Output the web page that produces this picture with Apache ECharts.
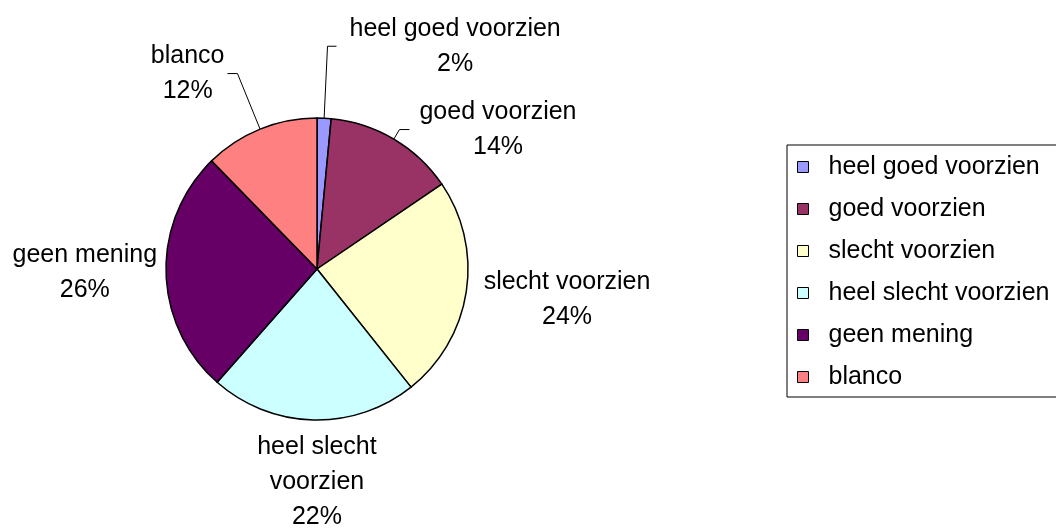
<!DOCTYPE html>
<html>
<head>
<meta charset="utf-8">
<script src="https://cdn.jsdelivr.net/npm/echarts@6/dist/echarts.min.js"></script>
<style>
  html, body { margin: 0; padding: 0; background: #fff; }
  #chart { width: 1056px; height: 528px; }
</style>
</head>
<body>
<div id="chart"></div>
<script>
// categories and shares (percent of answers)
var categories = ['heel goed voorzien', 'goed voorzien', 'slecht voorzien', 'heel slecht voorzien', 'geen mening', 'blanco']
var labelNames = ['heel goed voorzien', 'goed voorzien', 'slecht voorzien', 'heel slecht\nvoorzien', 'geen mening', 'blanco']
var shares = [1.5, 14.0, 23.8, 22.2, 26.2, 12.3]
var colors = ['#9999FF', '#993366', '#FFFFCC', '#CCFFFF', '#660066', '#FF8080']

// pie geometry
var pieCenter = [317, 269]
var pieRadius = 151

// label placement: radial leader length, horizontal length, side, gap to text
var lineLen1 = [72, 11, 55, 10, 6, 60]
var lineLen2 = [9, 10, -37, 4, 3, 10]
var labelSide = [1, 1, 1, 0, -1, -1]
var labelGap = [13, 10, 0, 0, 0, 3]
var showLine = [true, true, false, false, false, true]

var total = shares.reduce(function (a, b) { return a + b }, 0)
var midAngles = []
var acc = 0
shares.forEach(function (v) {
  midAngles.push((acc + v / 2) / total * Math.PI * 2)
  acc += v
})

var chart = echarts.init(document.getElementById('chart'))

var seriesData = categories.map(function (name, i) {
  return {
    name: name,
    value: shares[i],
    itemStyle: { color: colors[i] },
    labelLine: { show: showLine[i] }
  }
})

var legendData = categories.map(function (name) {
  return { name: name, itemStyle: { borderColor: '#000', borderWidth: 1 } }
})

var options = {
  animation: false,
  legend: {
    orient: 'vertical',
    left: 787,
    top: 145,
    padding: [7, 40, 5, 10],
    itemGap: 12,
    itemWidth: 11,
    itemHeight: 11,
    icon: 'rect',
    borderColor: '#000',
    borderWidth: 1,
    borderRadius: 0,
    selectedMode: false,
    itemStyle: { borderColor: '#000', borderWidth: 1 },
    textStyle: {
      color: '#000',
      fontSize: 25,
      lineHeight: 30,
      fontFamily: 'Liberation Sans, Arial, sans-serif',
      padding: [0, 0, 0, 15]
    },
    data: legendData
  },
  series: [
    {
      type: 'pie',
      center: pieCenter,
      radius: pieRadius,
      startAngle: 90,
      clockwise: true,
      avoidLabelOverlap: false,
      emphasis: { disabled: true },
      itemStyle: { borderColor: '#000', borderWidth: 1.5 },
      label: {
        show: true,
        position: 'outside',
        color: '#000',
        fontSize: 25,
        lineHeight: 35,
        fontFamily: 'Liberation Sans, Arial, sans-serif',
        align: 'center',
        formatter: function (p) {
          return labelNames[p.dataIndex] + '\n' + Math.round(p.percent) + '%'
        }
      },
      labelLine: {
        show: true,
        lineStyle: { color: '#000', width: 1 }
      },
      labelLayout: function (params) {
        var i = params.dataIndex
        var a = midAngles[i]
        var dx = Math.sin(a)
        var dy = -Math.cos(a)
        var edge = [pieCenter[0] + pieRadius * dx, pieCenter[1] + pieRadius * dy]
        var anchor = [pieCenter[0] + (pieRadius + lineLen1[i]) * dx, pieCenter[1] + (pieRadius + lineLen1[i]) * dy]
        var side = labelSide[i]
        // horizontal step: away from the pie for side labels, plain shift for bottom label
        var step = side === 0 ? lineLen2[i] : side * Math.abs(lineLen2[i]) * (lineLen2[i] < 0 ? -1 : 1)
        var end = [anchor[0] + step, anchor[1]]
        var w = params.labelRect.width
        var h = params.labelRect.height
        var x, y
        if (side !== 0) {
          x = end[0] + side * (labelGap[i] + w / 2)
          y = end[1]
        } else {
          x = end[0]
          y = end[1] + labelGap[i] + h / 2
        }
        var res = { x: x, y: y, align: 'center', verticalAlign: 'middle' }
        if (showLine[i]) {
          res.labelLinePoints = [edge, anchor, end]
        }
        return res
      },
      data: seriesData
    }
  ]
}

chart.setOption(options)
</script>
</body>
</html>
